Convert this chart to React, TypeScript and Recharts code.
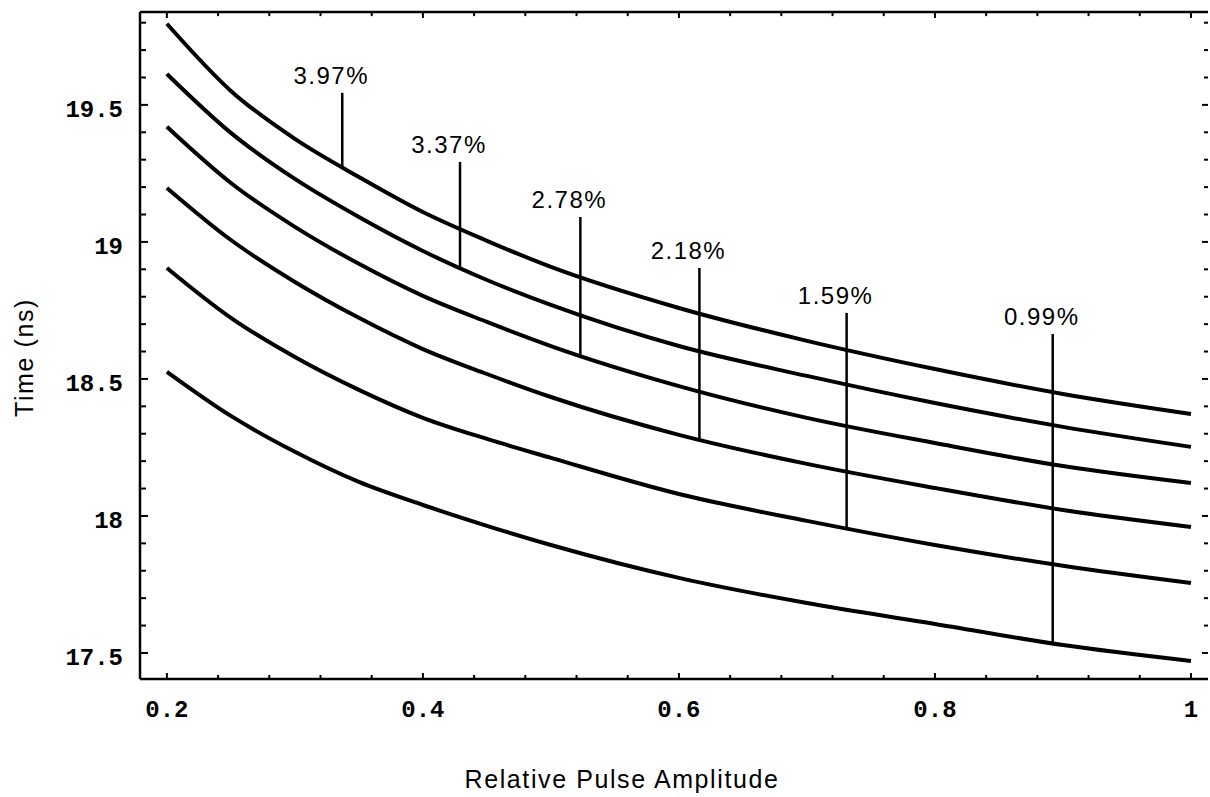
import { LineChart, Line, XAxis, YAxis, ReferenceLine } from 'recharts';

// relative pulse amplitude sample points
const amplitude = [0.2, 0.25, 0.3, 0.35, 0.4, 0.45, 0.5, 0.6, 0.7, 0.8, 0.9, 1.0];

// time (ns), top curve first
const curve1 = [19.796, 19.551, 19.376, 19.237, 19.109, 19.004, 18.909, 18.759, 18.639, 18.536, 18.445, 18.372];
const curve2 = [19.613, 19.398, 19.23, 19.091, 18.967, 18.861, 18.77, 18.62, 18.511, 18.412, 18.325, 18.252];
const curve3 = [19.42, 19.215, 19.055, 18.92, 18.803, 18.708, 18.62, 18.474, 18.358, 18.266, 18.182, 18.12];
const curve4 = [19.197, 19.007, 18.854, 18.723, 18.609, 18.518, 18.434, 18.296, 18.19, 18.102, 18.022, 17.96];
const curve5 = [18.905, 18.723, 18.58, 18.46, 18.358, 18.281, 18.212, 18.08, 17.982, 17.894, 17.818, 17.755];
const curve6 = [18.526, 18.365, 18.234, 18.124, 18.04, 17.964, 17.894, 17.774, 17.682, 17.606, 17.529, 17.471];

// vertical marker lines
const markerX = [0.337, 0.429, 0.523, 0.616, 0.731, 0.892];
const markerTop = [19.544, 19.292, 19.091, 18.905, 18.741, 18.664];
const markerBottom = [19.273, 18.903, 18.588, 18.28, 17.955, 17.535];
const markerLabels = ['3.97%', '3.37%', '2.78%', '2.18%', '1.59%', '0.99%'];

// ticks
const xTicks = [0.2, 0.24, 0.28, 0.32, 0.36, 0.4, 0.44, 0.48, 0.52, 0.56, 0.6, 0.64, 0.68, 0.72, 0.76, 0.8, 0.84, 0.88, 0.92, 0.96, 1.0];
const xMajor = [0.2, 0.4, 0.6, 0.8, 1.0];
const xMajorLabels = ['0.2', '0.4', '0.6', '0.8', '1'];
const yTicks = [17.5, 17.6, 17.7, 17.8, 17.9, 18, 18.1, 18.2, 18.3, 18.4, 18.5, 18.6, 18.7, 18.8, 18.9, 19, 19.1, 19.2, 19.3, 19.4, 19.5, 19.6, 19.7, 19.8];
const yMajor = [17.5, 18, 18.5, 19, 19.5];
const yMajorLabels = ['17.5', '18', '18.5', '19', '19.5'];

const curves = [curve1, curve2, curve3, curve4, curve5, curve6];
const data = amplitude.map((x, i) => {
  const row: Record<string, number> = { x };
  curves.forEach((c, k) => (row[`c${k + 1}`] = c[i]));
  return row;
});

const X_DOMAIN: [number, number] = [0.179, 1.0133];
const Y_DOMAIN: [number, number] = [17.405, 19.839];

const MONO = '"Liberation Mono", "Courier New", monospace';
const SANS = '"Liberation Sans", Arial, sans-serif';

const findMajor = (list: number[], v: number) => list.findIndex((m) => Math.abs(m - v) < 1e-6);

const LeftTick = (props: any) => {
  const { x, y, payload } = props;
  const i = findMajor(yMajor, payload.value);
  return (
    <g>
      <line x1={x} x2={x + (i >= 0 ? 8 : 6)} y1={y} y2={y} stroke="#000" strokeWidth={2} />
      {i >= 0 && (
        <text x={x - 17} y={y + 12} textAnchor="end" fontFamily={MONO} fontWeight="bold" fontSize={24} fill="#000">
          {yMajorLabels[i]}
        </text>
      )}
    </g>
  );
};

const RightTick = (props: any) => {
  const { x, y, payload } = props;
  const major = findMajor(yMajor, payload.value) >= 0;
  return <line x1={x} x2={x - (major ? 6 : 4)} y1={y} y2={y} stroke="#000" strokeWidth={2} />;
};

const BottomTick = (props: any) => {
  const { x, y, payload } = props;
  const i = findMajor(xMajor, payload.value);
  return (
    <g>
      <line x1={x} x2={x} y1={y} y2={y - (i >= 0 ? 6 : 4)} stroke="#000" strokeWidth={2} />
      {i >= 0 && (
        <text x={x} y={y + 38} textAnchor="middle" fontFamily={MONO} fontWeight="bold" fontSize={24} fill="#000">
          {xMajorLabels[i]}
        </text>
      )}
    </g>
  );
};

const markerLabel = (text: string) => (p: any) => {
  const vb = p.viewBox;
  return (
    <text
      x={vb.x + (vb.width || 0) / 2 - 11}
      y={vb.y - 9}
      textAnchor="middle"
      fontFamily={SANS}
      fontSize={24}
      letterSpacing={1.5}
      fill="#000"
    >
      {text}
    </text>
  );
};

export default function App() {
  return (
    <div style={{ position: 'absolute', left: 0, top: 0, background: '#fff' }}>
      <LineChart width={1210} height={797} data={data} margin={{ top: 12, right: 1, left: 0, bottom: 0 }}>
        <XAxis
          xAxisId="b"
          dataKey="x"
          type="number"
          domain={X_DOMAIN}
          allowDataOverflow
          ticks={xTicks}
          interval={0}
          height={118}
          tickSize={0}
          tickMargin={0}
          tickLine={false}
          tick={<BottomTick />}
          axisLine={{ stroke: '#000', strokeWidth: 2.5 }}
          label={(p: any) => (
            <text
              x={p.viewBox.x + p.viewBox.width / 2 - 52}
              y={p.viewBox.y + 109}
              textAnchor="middle"
              fontFamily={SANS}
              fontSize={25}
              letterSpacing={1.6}
              fill="#000"
            >
              Relative Pulse Amplitude
            </text>
          )}
        />
        <YAxis
          yAxisId="l"
          type="number"
          domain={Y_DOMAIN}
          allowDataOverflow
          ticks={yTicks}
          interval={0}
          width={140}
          tickSize={0}
          tickMargin={0}
          tickLine={false}
          tick={<LeftTick />}
          axisLine={{ stroke: '#000', strokeWidth: 2.5 }}
          label={(p: any) => (
            <text
              x={33}
              y={p.viewBox.y + p.viewBox.height / 2 + 12}
              transform={`rotate(-90, 33, ${p.viewBox.y + p.viewBox.height / 2 + 12})`}
              textAnchor="middle"
              fontFamily={SANS}
              fontSize={25}
              letterSpacing={1.6}
              fill="#000"
            >
              Time (ns)
            </text>
          )}
        />
        <YAxis
          yAxisId="r"
          orientation="right"
          type="number"
          domain={Y_DOMAIN}
          allowDataOverflow
          ticks={yTicks}
          interval={0}
          width={1}
          tickSize={0}
          tickMargin={0}
          tickLine={false}
          tick={<RightTick />}
          axisLine={false}
        />
        {/* top frame */}
        <ReferenceLine
          xAxisId="b"
          yAxisId="l"
          y={Y_DOMAIN[1]}
          ifOverflow="visible"
          stroke="#000"
          strokeWidth={2.5}
        />
        {/* inward ticks along the top frame */}
        {xTicks.map((t) => (
          <ReferenceLine
            key={`tt${t}`}
            xAxisId="b"
            yAxisId="l"
            ifOverflow="visible"
            segment={[
              { x: t, y: Y_DOMAIN[1] },
              { x: t, y: Y_DOMAIN[1] - (findMajor(xMajor, t) >= 0 ? 0.022 : 0.015) },
            ]}
            stroke="#000"
            strokeWidth={2}
          />
        ))}
        {curves.map((_, k) => (
          <Line
            key={k}
            xAxisId="b"
            yAxisId="l"
            type="monotone"
            dataKey={`c${k + 1}`}
            stroke="#000"
            strokeWidth={4}
            dot={false}
            isAnimationActive={false}
          />
        ))}
        {markerX.map((mx, i) => (
          <ReferenceLine
            key={i}
            xAxisId="b"
            yAxisId="l"
            segment={[
              { x: mx, y: markerTop[i] },
              { x: mx, y: markerBottom[i] },
            ]}
            stroke="#000"
            strokeWidth={2.5}
            label={markerLabel(markerLabels[i])}
          />
        ))}
      </LineChart>
    </div>
  );
}
